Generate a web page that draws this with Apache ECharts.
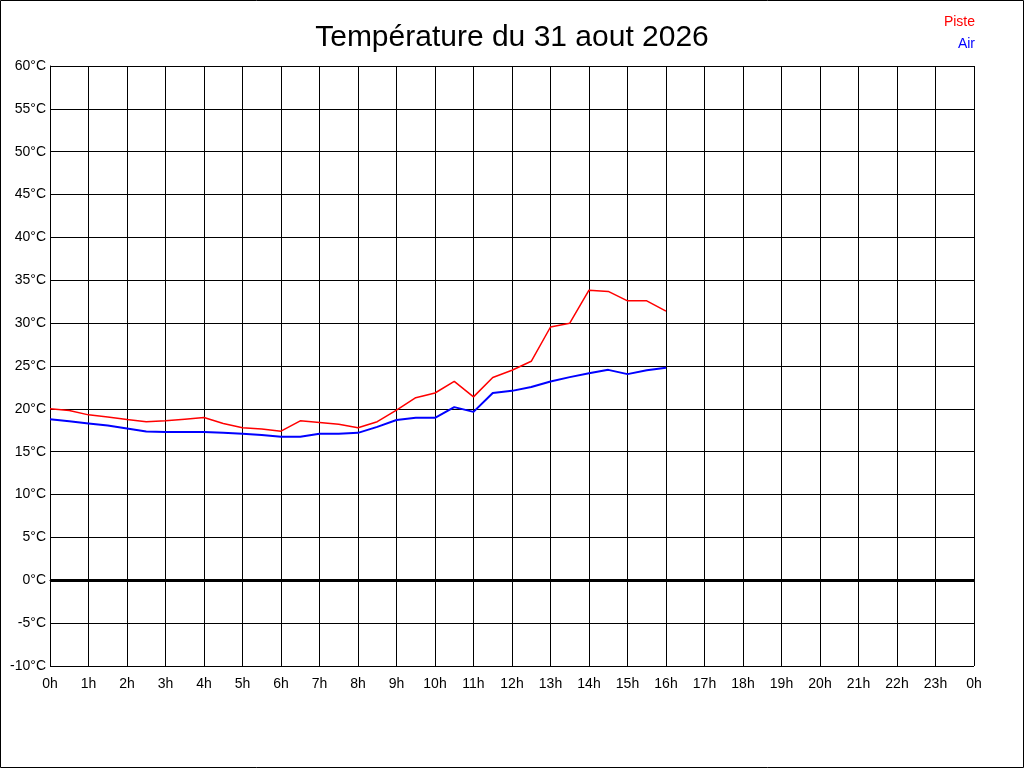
<!DOCTYPE html>
<html>
<head>
<meta charset="utf-8">
<script src="https://cdn.jsdelivr.net/npm/echarts@6/dist/echarts.min.js"></script>
<style>
  html, body { margin: 0; padding: 0; background: #fff; }
  #chart { width: 1024px; height: 768px; }
</style>
</head>
<body>
<div id="chart"></div>
<script>
// Température piste / air, relevés toutes les 30 minutes
const hours = [0, 0.5, 1, 1.5, 2, 2.5, 3, 3.5, 4, 4.5, 5, 5.5, 6, 6.5, 7, 7.5, 8,
  8.5, 9, 9.5, 10, 10.5, 11, 11.5, 12, 12.5, 13, 13.5, 14, 14.5, 15, 15.5, 16];

const piste = [20.0, 19.8, 19.3, 19.05, 18.75, 18.5, 18.6, 18.8, 19.0, 18.3, 17.8, 17.65, 17.4,
  18.6, 18.4, 18.2, 17.8, 18.5, 19.85, 21.3, 21.85, 23.2, 21.4, 23.65, 24.5, 25.55,
  29.55, 30.0, 33.85, 33.7, 32.6, 32.6, 31.4];

const air = [18.8, 18.55, 18.3, 18.05, 17.7, 17.35, 17.3, 17.3, 17.3, 17.2, 17.1, 16.95, 16.75,
  16.75, 17.1, 17.1, 17.2, 17.9, 18.7, 18.95, 18.95, 20.2, 19.65, 21.85, 22.1, 22.55,
  23.2, 23.7, 24.15, 24.55, 24.05, 24.5, 24.8];

const seriesNames = ['Piste', 'Air'];
const seriesColors = ['#ff0000', '#0000ff'];

const FONT = 'Liberation Sans';

const chart = echarts.init(document.getElementById('chart'));
chart.setOption({
  animation: false,
  backgroundColor: '#fff',
  textStyle: { fontFamily: FONT },
  title: {
    text: 'Température du 31 aout 2026',
    left: 'center',
    top: 18,
    textStyle: { fontFamily: FONT, fontSize: 30, fontWeight: 'normal', color: '#000' }
  },
  legend: {
    orient: 'vertical',
    right: 39,
    top: 10,
    align: 'right',
    itemWidth: 0,
    itemHeight: 14,
    itemGap: 8,
    selectedMode: false,
    data: seriesNames.map((n, i) => ({
      name: n,
      icon: 'rect',
      textStyle: { color: seriesColors[i], fontSize: 14, fontFamily: FONT }
    }))
  },
  grid: { left: 50, right: 50, top: 66, bottom: 102, containLabel: false },
  xAxis: {
    type: 'value',
    min: 0,
    max: 24,
    interval: 1,
    axisLine: { show: true, lineStyle: { color: '#000', width: 1 } },
    axisTick: { show: false },
    axisLabel: {
      color: '#000', fontSize: 14, margin: 11, fontFamily: FONT,
      formatter: v => (v % 24) + 'h'
    },
    splitLine: { show: true, lineStyle: { color: '#000', width: 1 } }
  },
  yAxis: {
    type: 'value',
    min: -10,
    max: 60,
    interval: 5,
    axisLine: { show: true, lineStyle: { color: '#000', width: 1 } },
    axisTick: { show: false },
    axisLabel: { color: '#000', fontSize: 14, margin: 4, fontFamily: FONT, formatter: '{value}°C' },
    splitLine: { show: true, lineStyle: { color: '#000', width: 1 } }
  },
  graphic: [{
    type: 'rect',
    silent: true,
    shape: { x: 0.5, y: 0.5, width: 1023, height: 767 },
    style: { fill: 'none', stroke: '#000', lineWidth: 1 }
  }],
  series: [
    {
      name: 'Piste',
      type: 'line',
      data: hours.map((h, i) => [h, piste[i]]),
      showSymbol: false,
      color: seriesColors[0],
      lineStyle: { width: 1.5, color: seriesColors[0] },
      z: 3,
      markLine: {
        silent: true,
        symbol: 'none',
        label: { show: false },
        lineStyle: { color: '#000', width: 3, type: 'solid' },
        data: [{ yAxis: 0 }]
      }
    },
    {
      name: 'Air',
      type: 'line',
      data: hours.map((h, i) => [h, air[i]]),
      showSymbol: false,
      color: seriesColors[1],
      lineStyle: { width: 2, color: seriesColors[1] },
      z: 3
    }
  ]
});
</script>
</body>
</html>
